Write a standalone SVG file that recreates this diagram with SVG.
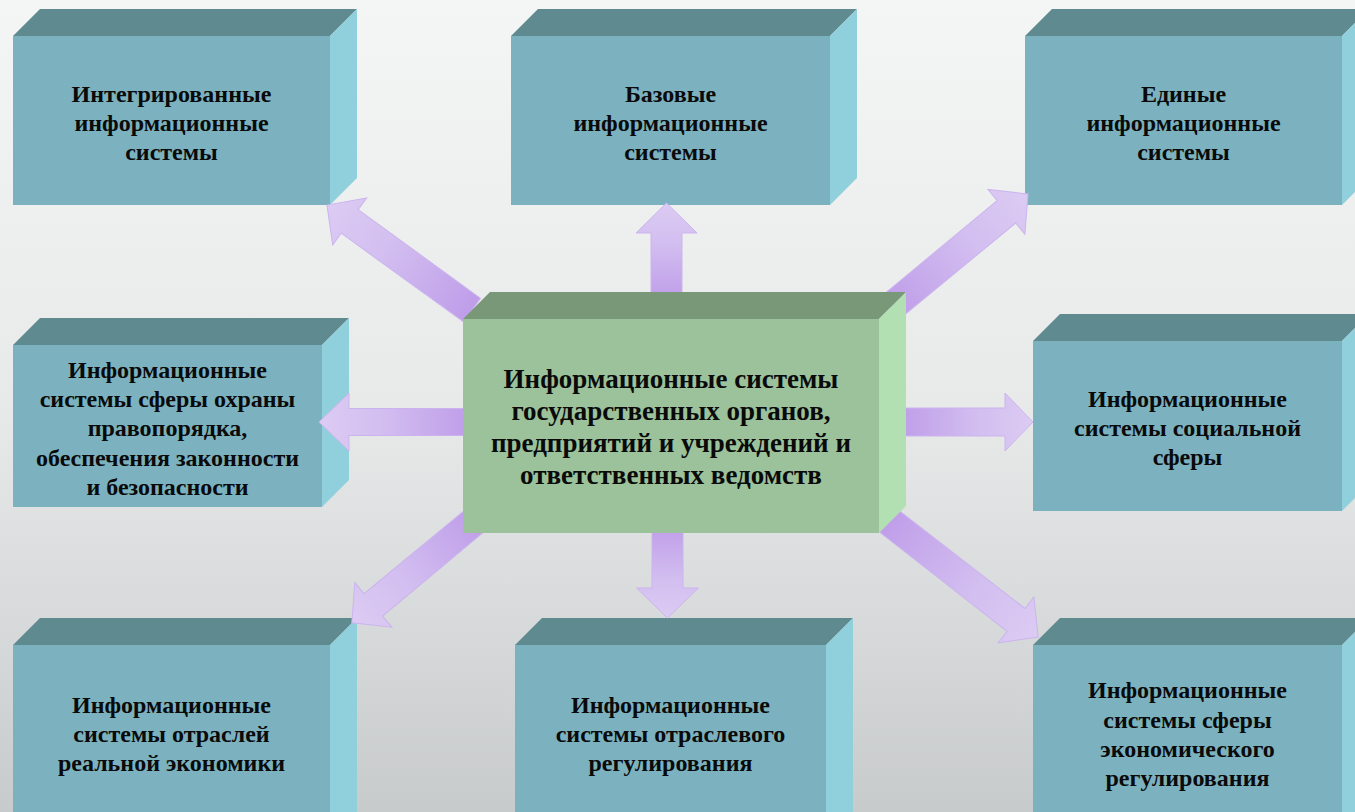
<svg xmlns="http://www.w3.org/2000/svg" width="1355" height="812" viewBox="0 0 1355 812">
<defs>
<linearGradient id="bg" x1="0" y1="0" x2="0" y2="1">
<stop offset="0" stop-color="#f4f5f5"/>
<stop offset="0.5" stop-color="#e8eaea"/>
<stop offset="1" stop-color="#c8cbcc"/>
</linearGradient>
<linearGradient id="ag" x1="0" y1="0" x2="1" y2="0">
<stop offset="0" stop-color="#bf9de9"/>
<stop offset="0.6" stop-color="#d3bff0"/>
<stop offset="1" stop-color="#dccbf3"/>
</linearGradient>
<style>
.arr{fill:url(#ag);stroke:#cbb4ee;stroke-width:1}
.front{fill:#7cb2bf}
.top{fill:#5f8a8f}
.side{fill:#8fd0dc}
.cfront{fill:#9bc29a}
.ctop{fill:#789878}
.cside{fill:#b3e0b3}
.t{font-family:"Liberation Serif","Times New Roman",serif;font-weight:bold;font-size:24px;fill:#0a0a0a;text-anchor:middle}
.ct{font-family:"Liberation Serif","Times New Roman",serif;font-weight:bold;font-size:27px;fill:#0a0a0a;text-anchor:middle}
</style>
</defs>
<rect x="0" y="0" width="1355" height="812" fill="url(#bg)"/>
<g id="n-integrated">
<polygon class="top" points="13,36 40,9 357,9 330,36"/>
<polygon class="side" points="330,36 357,9 357,178 330,205"/>
<rect class="front" x="13" y="36" width="317" height="169"/>
<text class="t" x="171.5" y="102">Интегрированные</text>
<text class="t" x="171.5" y="131">информационные</text>
<text class="t" x="171.5" y="160">системы</text>
</g>
<g id="n-base">
<polygon class="top" points="511,36 538,9 857,9 830,36"/>
<polygon class="side" points="830,36 857,9 857,178 830,205"/>
<rect class="front" x="511" y="36" width="319" height="169"/>
<text class="t" x="670.5" y="102">Базовые</text>
<text class="t" x="670.5" y="131">информационные</text>
<text class="t" x="670.5" y="160">системы</text>
</g>
<g id="n-unified">
<polygon class="top" points="1025,36 1052,9 1369,9 1342,36"/>
<polygon class="side" points="1342,36 1369,9 1369,178 1342,205"/>
<rect class="front" x="1025" y="36" width="317" height="169"/>
<text class="t" x="1183.5" y="102">Единые</text>
<text class="t" x="1183.5" y="131">информационные</text>
<text class="t" x="1183.5" y="160">системы</text>
</g>
<g id="n-law">
<polygon class="top" points="13,345 40,318 349,318 322,345"/>
<polygon class="side" points="322,345 349,318 349,480 322,507"/>
<rect class="front" x="13" y="345" width="309" height="162"/>
<text class="t" x="167.5" y="378">Информационные</text>
<text class="t" x="167.5" y="407">системы сферы охраны</text>
<text class="t" x="167.5" y="436">правопорядка,</text>
<text class="t" x="167.5" y="466">обеспечения законности</text>
<text class="t" x="167.5" y="495">и безопасности</text>
</g>
<g id="n-social">
<polygon class="top" points="1033,341 1060,314 1369,314 1342,341"/>
<polygon class="side" points="1342,341 1369,314 1369,484 1342,511"/>
<rect class="front" x="1033" y="341" width="309" height="170"/>
<text class="t" x="1187.5" y="407">Информационные</text>
<text class="t" x="1187.5" y="436">системы социальной</text>
<text class="t" x="1187.5" y="465">сферы</text>
</g>
<g id="n-real-economy">
<polygon class="top" points="13,645 40,618 357,618 330,645"/>
<polygon class="side" points="330,645 357,618 357,812 330,812"/>
<rect class="front" x="13" y="645" width="317" height="170"/>
<text class="t" x="171.5" y="713">Информационные</text>
<text class="t" x="171.5" y="742">системы отраслей</text>
<text class="t" x="171.5" y="771">реальной экономики</text>
</g>
<g id="n-sector-regulation">
<polygon class="top" points="515,645 542,618 853,618 826,645"/>
<polygon class="side" points="826,645 853,618 853,812 826,812"/>
<rect class="front" x="515" y="645" width="311" height="170"/>
<text class="t" x="670.5" y="713">Информационные</text>
<text class="t" x="670.5" y="742">системы отраслевого</text>
<text class="t" x="670.5" y="771">регулирования</text>
</g>
<g id="n-economic-regulation">
<polygon class="top" points="1033,645 1060,618 1369,618 1342,645"/>
<polygon class="side" points="1342,645 1369,618 1369,812 1342,812"/>
<rect class="front" x="1033" y="645" width="309" height="170"/>
<text class="t" x="1187.5" y="698">Информационные</text>
<text class="t" x="1187.5" y="728">системы сферы</text>
<text class="t" x="1187.5" y="757">экономического</text>
<text class="t" x="1187.5" y="786">регулирования</text>
</g>
<g id="connectors">
<path class="arr" transform="translate(472,310) rotate(215.9)" d="M0,-14.5 H151 V-29 L179,0 L151,29 V14.5 H0 Z"/>
<path class="arr" transform="translate(666.5,300) rotate(-90)" d="M0,-15.5 H67 V-30.5 L97,0 L67,30.5 V15.5 H0 Z"/>
<path class="arr" transform="translate(890,308) rotate(-39.56)" d="M0,-14.5 H151 V-29 L179,0 L151,29 V14.5 H0 Z"/>
<path class="arr" transform="translate(470,422) rotate(180)" d="M0,-13.5 H121 V-29 L151,0 L121,29 V13.5 H0 Z"/>
<path class="arr" transform="translate(900,422)" d="M0,-14 H105 V-29 L133,0 L105,29 V14 H0 Z"/>
<path class="arr" transform="translate(478,518) rotate(140.3)" d="M0,-14.5 H136 V-29 L164,0 L136,29 V14.5 H0 Z"/>
<path class="arr" transform="translate(667.5,525) rotate(90)" d="M0,-15.5 H63 V-31 L93,0 L63,31 V15.5 H0 Z"/>
<path class="arr" transform="translate(885,518) rotate(37.87)" d="M0,-14.5 H166 V-29 L194,0 L166,29 V14.5 H0 Z"/>
</g>
<g id="n-center">
<polygon class="ctop" points="463,319 490,292 906,292 879,319"/>
<polygon class="cside" points="879,319 906,292 906,506 879,533"/>
<rect class="cfront" x="463" y="319" width="416" height="214"/>
<text class="ct" x="671" y="388">Информационные системы</text>
<text class="ct" x="671" y="420">государственных органов,</text>
<text class="ct" x="671" y="452">предприятий и учреждений и</text>
<text class="ct" x="671" y="484">ответственных ведомств</text>
</g>
</svg>
